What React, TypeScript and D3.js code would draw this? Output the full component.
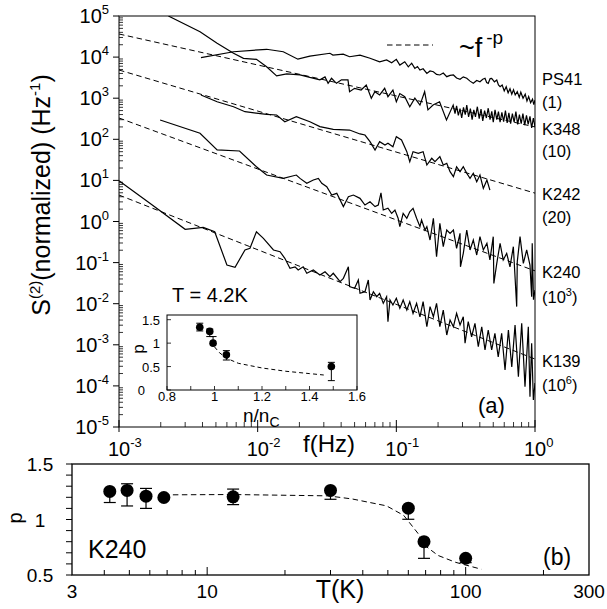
import * as d3 from "d3";

type Pt = [number, number];

// ---- panel (a): axis decades ----
const fDecades = [1e-3, 1e-2, 1e-1, 1];
const sDecades = [1e5, 1e4, 1e3, 1e2, 1e1, 1, 1e-1, 1e-2, 1e-3, 1e-4, 1e-5];

// ---- panel (a): spectra S(f), [f (Hz), S (Hz^-1)] ----
const ps41: Pt[] = [
  [0.0039, 9700], [0.0067, 13500], [0.0116, 15500], [0.0153, 13500], [0.0195, 8900], [0.0238, 10600],
  [0.0332, 12400], [0.0349, 11200], [0.0414, 11800], [0.046, 10200], [0.0547, 11200], [0.0646, 9400],
  [0.0758, 7700], [0.0851, 8500], [0.0925, 7300], [0.1, 8800], [0.106, 6400], [0.115, 7700], [0.122, 5800],
  [0.129, 7100], [0.136, 5300], [0.142, 5900], [0.148, 4850], [0.156, 5200], [0.166, 4000], [0.175, 4600],
  [0.185, 4400], [0.195, 3800], [0.206, 3670], [0.218, 4100], [0.231, 3340], [0.244, 3600], [0.258, 3670],
  [0.272, 3100], [0.288, 2880], [0.304, 3300], [0.322, 3050], [0.34, 2600], [0.359, 2300], [0.38, 2700],
  [0.401, 2520], [0.42, 2900], [0.436, 3050], [0.448, 2400], [0.46, 2300], [0.475, 3000], [0.487, 3050],
  [0.51, 2500], [0.53, 2770], [0.545, 2100], [0.56, 1900], [0.58, 2100], [0.6, 1500], [0.62, 1900],
  [0.64, 1350], [0.66, 1700], [0.68, 1250], [0.7, 1600], [0.72, 1200], [0.745, 1450], [0.77, 1050],
  [0.79, 1400], [0.82, 1000], [0.85, 1250], [0.875, 850], [0.9, 1100], [0.93, 780], [0.96, 950],
  [0.98, 700], [1.0, 900],
];

const k348: Pt[] = [
  [0.00227, 100000], [0.00384, 41500], [0.0051, 21700], [0.0067, 12400], [0.0079, 9300], [0.0098, 8800],
  [0.0116, 5800], [0.0137, 3500], [0.0162, 3900], [0.0202, 3700], [0.0238, 3200], [0.0281, 2800],
  [0.0306, 3300], [0.0322, 2300], [0.0341, 3050], [0.037, 2300], [0.0402, 2800], [0.0448, 2800],
  [0.046, 1440], [0.05, 1740], [0.0557, 1580], [0.0607, 2100], [0.066, 1000], [0.07, 1440], [0.0758, 1200],
  [0.0824, 1740], [0.087, 1090], [0.0945, 1580], [0.1, 820], [0.106, 1300], [0.115, 1090], [0.125, 620],
  [0.136, 1000], [0.148, 680], [0.16, 1440], [0.169, 520], [0.184, 680], [0.205, 820], [0.23, 295],
  [0.257, 680], [0.265, 420], [0.272, 650], [0.28, 380], [0.288, 560], [0.296, 330], [0.305, 600],
  [0.314, 400], [0.322, 680], [0.332, 350], [0.342, 560], [0.352, 300], [0.362, 520], [0.372, 350],
  [0.384, 620], [0.396, 320], [0.408, 540], [0.42, 280], [0.433, 500], [0.446, 330], [0.46, 570],
  [0.474, 300], [0.488, 480], [0.5, 260], [0.515, 520], [0.53, 300], [0.545, 470], [0.56, 260],
  [0.577, 450], [0.594, 270], [0.612, 500], [0.63, 250], [0.648, 440], [0.667, 240], [0.687, 420],
  [0.707, 260], [0.728, 470], [0.75, 230], [0.772, 400], [0.795, 240], [0.818, 420], [0.843, 220],
  [0.868, 380], [0.893, 230], [0.92, 360], [0.946, 190], [0.973, 330], [1.0, 200],
];

const k242: Pt[] = [
  [0.0039, 1200], [0.0051, 820], [0.0067, 620], [0.0081, 470], [0.0116, 405], [0.0137, 390], [0.0157, 268],
  [0.019, 355], [0.0238, 268], [0.0281, 203], [0.0351, 175], [0.046, 168], [0.0547, 135], [0.0594, 127],
  [0.0646, 87.5], [0.0702, 55], [0.0758, 87.5], [0.0828, 72.6], [0.087, 80], [0.0945, 66], [0.1, 116],
  [0.109, 96], [0.119, 50], [0.125, 28.5], [0.132, 50], [0.144, 45.6], [0.156, 50], [0.166, 23.7],
  [0.18, 34.5], [0.19, 28.5], [0.206, 37.8], [0.218, 23.7], [0.231, 26], [0.244, 16.3], [0.258, 12.3],
  [0.272, 21.5], [0.288, 16.3], [0.304, 21.5], [0.322, 14.9], [0.34, 11.2], [0.359, 14.9], [0.38, 9.3],
  [0.401, 13.5], [0.424, 6.4], [0.45, 10.2], [0.473, 5.8],
];

const k240: Pt[] = [
  [0.00198, 295], [0.00384, 140], [0.0051, 55], [0.0074, 52], [0.0098, 21.5], [0.0116, 13.5], [0.0153, 11.2],
  [0.019, 13.5], [0.0202, 11.2], [0.0226, 8.5], [0.0252, 10.2], [0.0274, 11.2], [0.029, 8.5], [0.0315, 7.0],
  [0.0342, 4.4], [0.0372, 4.85], [0.0415, 2.3], [0.0451, 4.0], [0.049, 4.4], [0.0547, 3.66], [0.0594, 2.52],
  [0.0646, 3.03], [0.0702, 2.3], [0.0741, 2.52], [0.0775, 5.0], [0.0805, 1.9], [0.087, 2.1], [0.0925, 1.58],
  [0.0977, 1.9], [0.103, 1.2], [0.106, 0.75], [0.112, 1.58], [0.119, 1.2], [0.125, 1.73], [0.132, 2.1],
  [0.14, 1.2], [0.148, 0.75], [0.152, 1.09], [0.161, 0.62], [0.166, 0.75], [0.175, 0.355], [0.185, 1.2],
  [0.195, 0.139], [0.206, 0.9], [0.218, 0.244], [0.231, 0.62], [0.244, 0.516], [0.258, 0.62], [0.272, 0.223],
  [0.288, 0.516], [0.29, 0.079], [0.304, 0.168], [0.322, 0.62], [0.34, 0.203], [0.359, 0.355], [0.38, 0.153],
  [0.401, 0.427], [0.424, 0.203], [0.45, 0.295], [0.473, 0.116], [0.5, 0.427], [0.505, 0.031], [0.53, 0.096],
  [0.56, 0.295], [0.59, 0.116], [0.625, 0.168], [0.66, 0.079], [0.698, 0.244], [0.738, 0.0085], [0.745, 0.105],
  [0.78, 0.427], [0.824, 0.096], [0.871, 0.203], [0.92, 0.087], [0.946, 0.0148], [0.955, 0.295],
  [0.975, 0.0125], [1.0, 0.0215],
];

const k139: Pt[] = [
  [0.001, 9.8], [0.00167, 2.77], [0.003, 0.645], [0.00405, 0.72], [0.0049, 0.565], [0.006, 0.0875],
  [0.00687, 0.077], [0.0081, 0.203], [0.0088, 0.223], [0.0098, 0.565], [0.011, 0.39], [0.013, 0.203],
  [0.0145, 0.184], [0.0157, 0.127], [0.0171, 0.0726], [0.0186, 0.079], [0.0196, 0.066], [0.0213, 0.079],
  [0.0226, 0.055], [0.0252, 0.066], [0.0281, 0.0499], [0.0306, 0.06], [0.0332, 0.0454], [0.0351, 0.055],
  [0.0393, 0.0343], [0.0415, 0.0415], [0.0451, 0.079], [0.046, 0.026], [0.05, 0.0237], [0.0532, 0.0378],
  [0.0547, 0.0179], [0.0594, 0.0196], [0.0628, 0.0378], [0.0646, 0.0123], [0.0683, 0.0196], [0.0722, 0.0148],
  [0.0758, 0.0179], [0.0805, 0.0102], [0.0851, 0.0148], [0.087, 0.00365], [0.09, 0.0123], [0.0945, 0.0093],
  [0.1, 0.0135], [0.106, 0.0077], [0.112, 0.0123], [0.119, 0.007], [0.125, 0.0112], [0.132, 0.0058],
  [0.14, 0.0102], [0.148, 0.0048], [0.156, 0.0112], [0.166, 0.00275], [0.175, 0.0085], [0.185, 0.0048],
  [0.195, 0.0102], [0.206, 0.00275], [0.218, 0.007], [0.231, 0.00173], [0.244, 0.004], [0.258, 0.00275],
  [0.272, 0.0058], [0.288, 0.00303], [0.304, 0.0048], [0.313, 0.00109], [0.33, 0.00365], [0.349, 0.00157],
  [0.369, 0.00333], [0.39, 0.0009], [0.413, 0.00275], [0.436, 0.00075], [0.46, 0.00229], [0.487, 0.00075],
  [0.514, 0.0019], [0.543, 0.00051], [0.575, 0.0019], [0.608, 0.000244], [0.643, 0.00229], [0.68, 0.00029],
  [0.718, 0.00303], [0.759, 0.000168], [0.802, 0.00333], [0.847, 0.000095], [0.895, 0.00275],
  [0.92, 0.0000546], [0.946, 0.00109], [0.973, 0.0000454], [1.0, 0.000117],
];

// dashed ~f^-p fits (end points at f = 1e-3 and f = 1)
const fitK348: Pt[] = [[0.001, 36500], [1, 200]];
const fitK242: Pt[] = [[0.001, 4850], [1, 4.9]];
const fitK240: Pt[] = [[0.001, 330], [1, 0.063]];
const fitK139: Pt[] = [[0.001, 4.4], [1, 0.00045]];

const sampleNames = ["PS41", "K348", "K242", "K240", "K139"];
const sampleFactors = ["1", "10", "20", "3", "6"]; // last two are powers of ten

// ---- inset: p vs n/nc at T = 4.2K ----
const nRatio = [0.938, 0.98, 0.994, 1.05, 1.492];
const pInset = [1.34, 1.25, 1.0, 0.75, 0.5];
const pInsetUp = [0.085, 0.05, 0.14, 0.09, 0.09];
const pInsetDown = [0.08, 0.11, 0, 0.11, 0.3];
const nFit = [1.0, 1.02, 1.05, 1.1, 1.2, 1.3, 1.4, 1.46];
const pFitN = [0.92, 0.8, 0.68, 0.57, 0.47, 0.4, 0.35, 0.32];

// ---- panel (b): p vs T for K240 ----
const temps = [4.2, 4.9, 5.8, 6.8, 12.6, 30, 60, 69, 100];
const pT = [1.253, 1.262, 1.21, 1.198, 1.204, 1.262, 1.102, 0.8, 0.651];
const pTUp = [0, 0.06, 0.07, 0, 0.07, 0, 0, 0, 0];
const pTDown = [0.1, 0.14, 0.11, 0, 0.07, 0.08, 0.1, 0.15, 0.04];
const tFit = [6.8, 12.5, 29.4, 36.4, 49.4, 57.6, 65.3, 69.3, 78.2, 91.5, 115];
const pFitT = [1.222, 1.225, 1.213, 1.185, 1.123, 1.037, 0.877, 0.768, 0.676, 0.614, 0.552];

const FONT = "'Liberation Sans', Arial, Helvetica, sans-serif";
const DASH = "5.5,3.5";

export default function App() {
  // panel (a) scales
  const x = d3.scaleLog().domain([1e-3, 1]).range([119, 535]);
  const y = d3.scaleLog().domain([1e-5, 1e5]).range([427, 16]);
  const line = d3.line<Pt>().x(d => x(d[0])).y(d => y(d[1]));

  // inset scales
  const xi = d3.scaleLinear().domain([0.8, 1.6]).range([167, 357]);
  const yi = d3.scaleLinear().domain([0, 1.6]).range([390, 315]);
  const lineI = d3.line<number>().x((d, i) => xi(nFit[i])).y(d => yi(d));

  // panel (b) scales
  const xb = d3.scaleLog().domain([3, 300]).range([72, 589]);
  const yb = d3.scaleLinear().domain([0.5, 1.5]).range([575, 464]);
  const lineB = d3.line<number>().x((d, i) => xb(tFit[i])).y(d => yb(d));

  const xMinor = d3.range(-3, 0).flatMap(e => d3.range(2, 10).map(m => m * Math.pow(10, e)));
  const yMinor = d3.range(-5, 5).flatMap(e => d3.range(2, 10).map(m => m * Math.pow(10, e)));
  const bMinor = [4, 5, 6, 7, 8, 9, 20, 30, 40, 50, 60, 70, 80, 90, 200];
  const bYTicks = d3.range(0.5, 1.501, 0.1);
  const iXTicks = d3.range(0.8, 1.601, 0.1);

  const curves = [ps41, k348, k242, k240, k139];
  const fits = [fitK348, fitK242, fitK240, fitK139];
  const nameY = [85, 135, 200, 278, 367];
  const factorY = [108, 157, 223, 303, 391];

  return (
    <svg width={607} height={609} style={{ position: "absolute", left: 0, top: 0, background: "#fff" }}
      fontFamily={FONT}>
      <defs>
        <clipPath id="clipA"><rect x={119} y={16} width={416} height={411} /></clipPath>
      </defs>

      {/* ---------- panel (a) ---------- */}
      <g clipPath="url(#clipA)">
        {fits.map((f, i) => (
          <path key={"fit" + i} d={line(f) ?? ""} fill="none" stroke="#000" strokeWidth={1} strokeDasharray={DASH} />
        ))}
        {curves.map((c, i) => (
          <path key={"c" + i} d={line(c) ?? ""} fill="none" stroke="#000" strokeWidth={1.2} />
        ))}
      </g>
      <rect x={119} y={16} width={416} height={411} fill="none" stroke="#000" strokeWidth={1} />

      {/* y ticks */}
      {sDecades.map(v => (
        <g key={"sy" + v}>
          <line x1={113} x2={119} y1={y(v)} y2={y(v)} stroke="#000" />
          <text x={109} y={y(v) + 7} fontSize={20} textAnchor="end">
            10<tspan dy={-9} fontSize={13}>{Math.round(Math.log10(v))}</tspan>
          </text>
        </g>
      ))}
      {yMinor.map(v => (
        <line key={"sym" + v} x1={119} x2={123} y1={y(v)} y2={y(v)} stroke="#000" strokeWidth={0.8} />
      ))}
      {/* x ticks */}
      {fDecades.map(v => (
        <g key={"fx" + v}>
          <line x1={x(v)} x2={x(v)} y1={420} y2={432} stroke="#000" />
          <text x={x(v) - 11} y={456} fontSize={20}>
            10<tspan dy={-9} fontSize={13}>{Math.round(Math.log10(v))}</tspan>
          </text>
        </g>
      ))}
      {xMinor.map(v => (
        <line key={"fxm" + v} x1={x(v)} x2={x(v)} y1={427} y2={422} stroke="#000" strokeWidth={0.8} />
      ))}
      <text x={303} y={452} fontSize={24}>f(Hz)</text>
      <text transform="translate(50,195) rotate(-90)" fontSize={25} textAnchor="middle">
        S<tspan dy={-10} fontSize={15}>(2)</tspan><tspan dy={10}>(normalized) (Hz</tspan>
        <tspan dy={-10} fontSize={15}>-1</tspan><tspan dy={10}>)</tspan>
      </text>

      {/* legend of the dashed fits */}
      <line x1={387} x2={433} y1={45} y2={45} stroke="#000" strokeDasharray={DASH} />
      <text x={459} y={57} fontSize={27}>~f<tspan dx={4} dy={-13} fontSize={19}>-p</tspan></text>

      {/* sample labels */}
      {sampleNames.map((n, i) => (
        <g key={n} fontSize={16.5}>
          <text x={542} y={nameY[i]}>{n}</text>
          {i < 3 ? (
            <text x={542} y={factorY[i]}>({sampleFactors[i]})</text>
          ) : (
            <text x={542} y={factorY[i]}>
              (10<tspan dy={-7} fontSize={11}>{sampleFactors[i]}</tspan><tspan dy={7}>)</tspan>
            </text>
          )}
        </g>
      ))}
      <text x={172} y={302} fontSize={20}>T = 4.2K</text>
      <text x={478} y={413} fontSize={22}>(a)</text>

      {/* ---------- inset ---------- */}
      <rect x={167} y={315} width={190} height={75} fill="#fff" stroke="#000" strokeWidth={1} />
      {iXTicks.map((v, i) => (
        <g key={"ix" + i}>
          <line x1={xi(v)} x2={xi(v)} y1={390} y2={386} stroke="#000" strokeWidth={0.8} />
          {i % 2 === 0 && (
            <text x={xi(v)} y={401} fontSize={13} textAnchor="middle">{d3.format("~g")(+v.toFixed(1))}</text>
          )}
        </g>
      ))}
      {[0, 0.5, 1, 1.5].map(v => (
        <g key={"iy" + v}>
          <line x1={167} x2={171} y1={yi(v)} y2={yi(v)} stroke="#000" strokeWidth={0.8} />
          <text x={v === 0 ? 145 : 160} y={yi(v) + 5} fontSize={13} textAnchor="end">{v}</text>
        </g>
      ))}
      <text transform="translate(144,349) rotate(-90)" fontSize={17} textAnchor="middle">p</text>
      <text x={243} y={422} fontSize={19}>n/n<tspan dy={5} fontSize={14}>C</tspan></text>
      <path d={lineI(pFitN) ?? ""} fill="none" stroke="#000" strokeDasharray="4,3" />
      {nRatio.map((n, i) => (
        <g key={"ip" + i} stroke="#000">
          {pInsetUp[i] > 0 && (
            <>
              <line x1={xi(n)} x2={xi(n)} y1={yi(pInset[i])} y2={yi(pInset[i] + pInsetUp[i])} />
              <line x1={xi(n) - 3.5} x2={xi(n) + 3.5} y1={yi(pInset[i] + pInsetUp[i])} y2={yi(pInset[i] + pInsetUp[i])} />
            </>
          )}
          {pInsetDown[i] > 0 && (
            <>
              <line x1={xi(n)} x2={xi(n)} y1={yi(pInset[i])} y2={yi(pInset[i] - pInsetDown[i])} />
              <line x1={xi(n) - 3.5} x2={xi(n) + 3.5} y1={yi(pInset[i] - pInsetDown[i])} y2={yi(pInset[i] - pInsetDown[i])} />
            </>
          )}
          <circle cx={xi(n)} cy={yi(pInset[i])} r={3.8} fill="#000" stroke="none" />
        </g>
      ))}

      {/* ---------- panel (b) ---------- */}
      <rect x={72} y={464} width={517} height={111} fill="none" stroke="#000" strokeWidth={1.3} />
      {bYTicks.map((v, i) => (
        <line key={"by" + i} x1={66} x2={72} y1={yb(v)} y2={yb(v)} stroke="#000" />
      ))}
      {[0.5, 1, 1.5].map(v => (
        <text key={"byl" + v} x={40} y={yb(v) + 7} fontSize={19} textAnchor="middle">{v}</text>
      ))}
      {bMinor.map(v => (
        <line key={"bx" + v} x1={xb(v)} x2={xb(v)} y1={575} y2={570} stroke="#000" />
      ))}
      {[10, 100].map(v => (
        <line key={"bxM" + v} x1={xb(v)} x2={xb(v)} y1={575} y2={567} stroke="#000" />
      ))}
      {[3, 10, 100, 300].map(v => (
        <text key={"bxl" + v} x={xb(v)} y={598} fontSize={19} textAnchor="middle">{v}</text>
      ))}
      <text x={340} y={598} fontSize={25} textAnchor="middle">T(K)</text>
      <text transform="translate(22,518) rotate(-90)" fontSize={20} textAnchor="middle">p</text>
      <text x={88} y={558} fontSize={25}>K240</text>
      <text x={543} y={565} fontSize={23}>(b)</text>

      <path d={lineB(pFitT) ?? ""} fill="none" stroke="#000" strokeDasharray={DASH} />
      {temps.map((t, i) => (
        <g key={"bp" + i} stroke="#000" strokeWidth={1.2}>
          {pTUp[i] > 0 && (
            <>
              <line x1={xb(t)} x2={xb(t)} y1={yb(pT[i])} y2={yb(pT[i] + pTUp[i])} />
              <line x1={xb(t) - 6} x2={xb(t) + 6} y1={yb(pT[i] + pTUp[i])} y2={yb(pT[i] + pTUp[i])} />
            </>
          )}
          {pTDown[i] > 0 && (
            <>
              <line x1={xb(t)} x2={xb(t)} y1={yb(pT[i])} y2={yb(pT[i] - pTDown[i])} />
              <line x1={xb(t) - 6} x2={xb(t) + 6} y1={yb(pT[i] - pTDown[i])} y2={yb(pT[i] - pTDown[i])} />
            </>
          )}
          <circle cx={xb(t)} cy={yb(pT[i])} r={6.5} fill="#000" stroke="none" />
        </g>
      ))}
    </svg>
  );
}
